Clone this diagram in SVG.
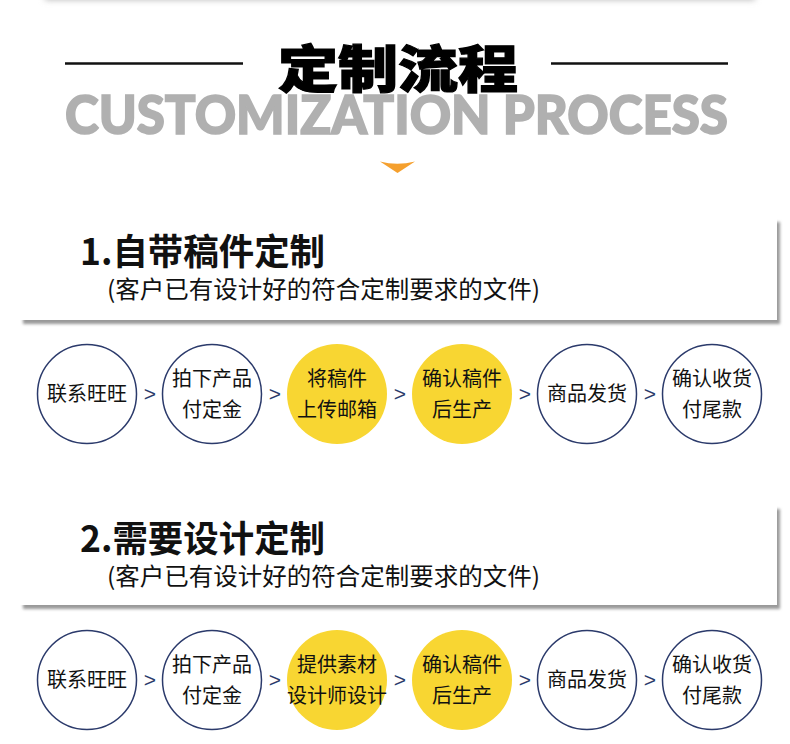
<svg xmlns="http://www.w3.org/2000/svg" width="790" height="744" viewBox="0 0 790 744">
<defs>
<filter id="sh" x="-5%" y="-20%" width="110%" height="140%">
<feDropShadow dx="3" dy="4" stdDeviation="1.5" flood-color="#777" flood-opacity="0.75"/>
</filter>
<filter id="blur" x="-10%" y="-200%" width="120%" height="500%">
<feGaussianBlur stdDeviation="3"/>
</filter>
<style>
.cjk{font-family:"Noto Sans CJK SC","Noto Sans",sans-serif;}
.c{fill:#fff;stroke:#2b3a6b;stroke-width:1.5;}
.y{fill:#f8d632;}
.t{font-family:"Noto Sans CJK SC","Noto Sans",sans-serif;font-size:20px;fill:#111;text-anchor:middle;}
.g{font-family:"Liberation Sans","Noto Sans",sans-serif;font-size:21px;fill:#2b3a6b;text-anchor:middle;}
.h{font-family:"Noto Sans CJK SC","Noto Sans",sans-serif;font-size:36px;font-weight:700;fill:#111;}
.s{font-family:"Noto Sans CJK SC","Noto Sans",sans-serif;font-size:24px;fill:#111;}
.ln{stroke:#111;stroke-width:2.5;}
</style>
</defs>
<rect width="790" height="744" fill="#fff"/>
<rect x="45" y="-12" width="710" height="12" fill="#bbb" filter="url(#blur)"/>

<g id="header">
<line class="ln" x1="65" y1="63.5" x2="243" y2="63.5"/>
<line class="ln" x1="551" y1="63.5" x2="728" y2="63.5"/>
<text x="278" y="88" class="cjk" font-size="51" font-weight="900" fill="#000" stroke="#000" stroke-width="1.2" textLength="240" lengthAdjust="spacingAndGlyphs">定制流程</text>
<text x="65" y="134" font-family="Lato,'Liberation Sans',sans-serif" font-size="53" font-weight="900" fill="#b0b0b0" stroke="#b0b0b0" stroke-width="1.6" textLength="663" lengthAdjust="spacingAndGlyphs">CUSTOMIZATION PROCESS</text>
<path d="M380,161.5 Q397,166 415,161.5 L397.5,173 Z" fill="#f5a02e"/>
</g>

<g id="section1">
<rect x="20" y="218" width="757" height="102" fill="#fff" filter="url(#sh)"/>
<text x="80" y="265" class="h" textLength="245" lengthAdjust="spacingAndGlyphs">1.自带稿件定制</text>
<text x="107" y="298" class="s" textLength="433" lengthAdjust="spacingAndGlyphs">(客户已有设计好的符合定制要求的文件)</text>
</g>

<g id="row1">
<g id="r1n1"><circle class="c" cx="87" cy="394" r="49.5"/><text class="t" x="87" y="401">联系旺旺</text></g>
<g id="r1n2"><circle class="c" cx="212" cy="394" r="49.5"/><text class="t" x="212" y="385.5">拍下产品</text><text class="t" x="212" y="416.5">付定金</text></g>
<g id="r1n3"><circle class="y" cx="337" cy="394" r="50"/><text class="t" x="337" y="385.5">将稿件</text><text class="t" x="337" y="416.5">上传邮箱</text></g>
<g id="r1n4"><circle class="y" cx="462" cy="394" r="50"/><text class="t" x="462" y="385.5">确认稿件</text><text class="t" x="462" y="416.5">后生产</text></g>
<g id="r1n5"><circle class="c" cx="587" cy="394" r="49.5"/><text class="t" x="587" y="401">商品发货</text></g>
<g id="r1n6"><circle class="c" cx="712" cy="394" r="49.5"/><text class="t" x="712" y="385.5">确认收货</text><text class="t" x="712" y="416.5">付尾款</text></g>
</g>

<g id="section2">
<rect x="20" y="505" width="757" height="100" fill="#fff" filter="url(#sh)"/>
<text x="80" y="552" class="h" textLength="245" lengthAdjust="spacingAndGlyphs">2.需要设计定制</text>
<text x="107" y="585" class="s" textLength="433" lengthAdjust="spacingAndGlyphs">(客户已有设计好的符合定制要求的文件)</text>
</g>

<g id="row2">
<g id="r2n1"><circle class="c" cx="87" cy="680" r="49.5"/><text class="t" x="87" y="687">联系旺旺</text></g>
<g id="r2n2"><circle class="c" cx="212" cy="680" r="49.5"/><text class="t" x="212" y="672">拍下产品</text><text class="t" x="212" y="703">付定金</text></g>
<g id="r2n3"><circle class="y" cx="337" cy="680" r="50"/><text class="t" x="337" y="672" font-size="18">提供素材</text><text class="t" x="337" y="703" font-size="18">设计师设计</text></g>
<g id="r2n4"><circle class="y" cx="462" cy="680" r="50"/><text class="t" x="462" y="672">确认稿件</text><text class="t" x="462" y="703">后生产</text></g>
<g id="r2n5"><circle class="c" cx="587" cy="680" r="49.5"/><text class="t" x="587" y="687">商品发货</text></g>
<g id="r2n6"><circle class="c" cx="712" cy="680" r="49.5"/><text class="t" x="712" y="672">确认收货</text><text class="t" x="712" y="703">付尾款</text></g>
</g>

<g id="connectors">
<text class="g" x="150" y="401">&gt;</text>
<text class="g" x="275" y="401">&gt;</text>
<text class="g" x="400" y="401">&gt;</text>
<text class="g" x="525" y="401">&gt;</text>
<text class="g" x="650" y="401">&gt;</text>
<text class="g" x="150" y="687">&gt;</text>
<text class="g" x="275" y="687">&gt;</text>
<text class="g" x="400" y="687">&gt;</text>
<text class="g" x="525" y="687">&gt;</text>
<text class="g" x="650" y="687">&gt;</text>
</g>
</svg>
